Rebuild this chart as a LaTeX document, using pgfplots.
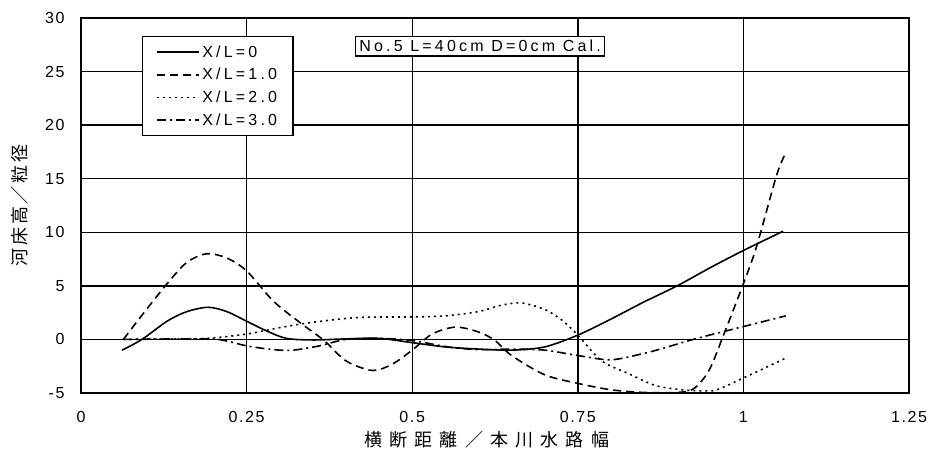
\documentclass[border=0pt]{standalone}
\usepackage{fontspec}
\setmainfont{Liberation Sans}
\newfontfamily\spaced[LetterSpace=20]{Liberation Sans}
\newfontfamily\tickf[LetterSpace=10]{Liberation Sans}
\newfontfamily\cjkx[LetterSpace=40]{Noto Sans CJK JP}
\newfontfamily\cjky[LetterSpace=15]{Noto Sans CJK JP}
\usepackage{pgfplots}
\pgfplotsset{compat=1.18}
\begin{document}
\begin{tikzpicture}
\begin{axis}[
  scale only axis, width=828pt, height=375pt,
  xmin=0, xmax=1.25, ymin=-5, ymax=30,
  xtick={0,0.25,0.5,0.75,1,1.25},
  xticklabels={0,0.25,0.5,0.75,1,1.25},
  ytick={-5,0,5,10,15,20,25,30},
  yticklabels={-5,0,5,10,15,20,25,30},
  grid=major, major grid style={black, line width=1.4pt},
  axis line style={black, line width=1.4pt},
  major tick length=0pt,
  /pgf/number format/assume math mode=true,
  ticklabel style={font=\tickf\fontsize{16}{16}\selectfont},
  xticklabel style={yshift=-15pt},
  yticklabel style={xshift=-13pt},
  xlabel={\cjkx\fontsize{18}{18}\selectfont 横断距離／本川水路幅},
  xlabel style={at={(axis description cs:0.49,-0.125)}, anchor=center},
  ylabel={\cjky\fontsize{18}{18}\selectfont 河床高／粒径},
  ylabel style={at={(axis description cs:-0.0737,0.5)}, anchor=center},
  legend style={at={(axis description cs:0.0737,0.952)}, anchor=north west,
    draw=black, line width=1.3pt, fill=white,
    font=\spaced\fontsize{16}{16}\selectfont,
    inner xsep=14pt, inner ysep=7pt, row sep=5.5pt,
    cells={anchor=west}, nodes={inner sep=2pt}},
  legend image code/.code={\draw[#1] (0pt,0pt) -- (42pt,0pt);},
  every axis plot/.append style={line width=1.6pt, black, smooth, no marks},
]
\addplot[black, no marks] coordinates {(0.062,-1.0) (0.092,0) (0.13,1.7) (0.16,2.6) (0.192,3.0) (0.22,2.6) (0.25,1.7) (0.28,0.8) (0.31,0.1) (0.35,-0.05) (0.40,0.05) (0.45,0.1) (0.50,-0.3) (0.55,-0.7) (0.60,-0.9) (0.65,-1.0) (0.70,-0.7) (0.75,0.4) (0.80,1.9) (0.85,3.5) (0.90,5.0) (0.95,6.7) (1.0,8.3) (1.06,10.1)};
\addlegendentry{X/L=0}
\addplot[black, no marks, dash pattern=on 8pt off 5pt] coordinates {(0.064,0) (0.09,2.1) (0.13,5.2) (0.16,7.2) (0.19,8.0) (0.22,7.6) (0.25,6.4) (0.29,3.6) (0.33,1.6) (0.367,-0.1) (0.40,-2.0) (0.44,-2.9) (0.47,-2.3) (0.50,-1.0) (0.53,0.5) (0.565,1.15) (0.60,0.7) (0.625,-0.1) (0.65,-1.5) (0.70,-3.3) (0.75,-4.1) (0.80,-4.7) (0.85,-4.95) (0.90,-4.95) (0.925,-4.6) (0.948,-2.9) (0.97,0.4) (1.0,5.2) (1.02,8.7) (1.05,15.3) (1.063,17.3)};
\addlegendentry{X/L=1.0}
\addplot[black, no marks, dash pattern=on 2pt off 4pt] coordinates {(0.064,0) (0.12,0.05) (0.19,0.1) (0.25,0.5) (0.30,1.1) (0.35,1.6) (0.42,2.05) (0.50,2.1) (0.55,2.2) (0.60,2.6) (0.635,3.2) (0.665,3.4) (0.70,2.8) (0.726,1.8) (0.75,0.4) (0.786,-2.0) (0.827,-3.2) (0.867,-4.3) (0.907,-4.7) (0.94,-4.8) (0.96,-4.7) (1.0,-3.6) (1.062,-1.8)};
\addlegendentry{X/L=2.0}
\addplot[black, no marks, dash pattern=on 9pt off 4pt on 2pt off 4pt] coordinates {(0.064,0) (0.19,0.05) (0.22,-0.15) (0.25,-0.6) (0.29,-0.95) (0.32,-1.0) (0.36,-0.6) (0.40,0) (0.45,0.1) (0.50,-0.1) (0.554,-0.7) (0.60,-0.95) (0.65,-0.9) (0.70,-1.0) (0.75,-1.5) (0.80,-1.9) (0.85,-1.3) (0.88,-0.8) (0.93,0.1) (1.0,1.2) (1.064,2.2)};
\addlegendentry{X/L=3.0}
\node[draw=black, line width=1.1pt, fill=white, inner sep=4pt,
  font=\spaced\fontsize{16}{16}\selectfont] at (axis description cs:0.482,0.925) {No.5 L=40cm D=0cm Cal.};
\end{axis}
\path (-81pt,-59pt) rectangle (861pt,393pt);
\end{tikzpicture}
\end{document}
